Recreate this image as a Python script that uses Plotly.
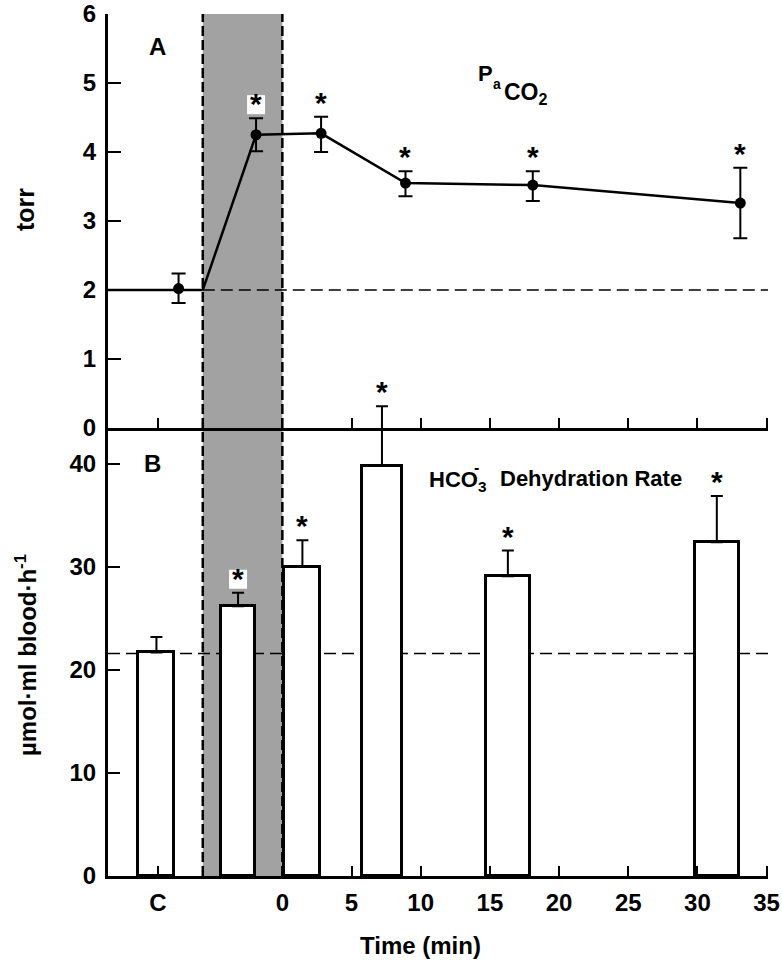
import plotly.graph_objects as go

# ---------------- data ----------------
# Panel A: arterial PCO2 (torr); "C" = control sample
pa_time = [-7.5, -1.9, 2.8, 8.9, 18.1, 33.1]
pa_val = [2.02, 4.25, 4.27, 3.55, 3.52, 3.26]
pa_err_plus = [0.22, 0.24, 0.24, 0.17, 0.20, 0.51]
pa_err_minus = [0.21, 0.24, 0.27, 0.19, 0.23, 0.51]
pa_sig = [False, True, True, True, True, True]
pa_baseline = 2.0

# Panel B: HCO3- dehydration rate (umol/ml blood/h)
rate_time = [-9.1, -3.2, 1.45, 7.2, 16.3, 31.4]
rate_val = [21.7, 26.2, 30.0, 39.8, 29.1, 32.4]
rate_err = [1.5, 1.3, 2.6, 5.8, 2.5, 4.5]
rate_width = [2.6, 2.4, 2.6, 2.9, 3.2, 3.2]
rate_sig = [False, True, True, True, True, True]
rate_baseline = 21.6

# infusion period (shaded)
infusion_start = -5.75
infusion_end = 0.0

tick_vals = [-9, 0, 5, 10, 15, 20, 25, 30, 35]
tick_text = ["C", "0", "5", "10", "15", "20", "25", "30", "35"]
a_ticks = [0, 1, 2, 3, 4, 5, 6]
b_ticks = [0, 10, 20, 30, 40]

# ---------------- layout constants ----------------
W, H = 782, 960
ML, MR, MT, MB = 108, 14, 14, 84
XMIN, XMAX = -12.6, 35.1
PLOT_H = H - MT - MB
A_BOTTOM_PX = 428
A_DOM0 = (H - MB - A_BOTTOM_PX) / PLOT_H
B_PX_PER_UNIT = 10.3
B_RANGE_TOP = PLOT_H / B_PX_PER_UNIT

FONT = "Liberation Sans, Arial, Helvetica, sans-serif"
INK = "black"
SHADE = "#a2a2a2"


def px_to_paper(px, py):
    return (px - ML) / (W - ML - MR), (H - MB - py) / PLOT_H


fig = go.Figure()

# Panel B bars
fig.add_trace(go.Bar(
    x=rate_time, y=rate_val, width=rate_width,
    marker=dict(color="white", line=dict(color=INK, width=3)),
    error_y=dict(type="data", symmetric=False, array=rate_err,
                 arrayminus=[0] * len(rate_err), color=INK,
                 thickness=2, width=6),
    xaxis="x2", yaxis="y2", showlegend=False, cliponaxis=False,
))

# Panel A line (from infusion onset at baseline through measured points)
fig.add_trace(go.Scatter(
    x=[infusion_start] + pa_time[1:], y=[pa_baseline] + pa_val[1:],
    mode="lines", line=dict(color=INK, width=2.5),
    xaxis="x", yaxis="y", showlegend=False, cliponaxis=False,
))
fig.add_trace(go.Scatter(
    x=pa_time, y=pa_val, mode="markers",
    marker=dict(symbol="circle", size=11, color=INK),
    error_y=dict(type="data", symmetric=False, array=pa_err_plus,
                 arrayminus=pa_err_minus, color=INK, thickness=2, width=7),
    xaxis="x", yaxis="y", showlegend=False, cliponaxis=False,
))

shapes = []
# shaded infusion band across both panels
shapes.append(dict(type="rect", xref="x2", yref="paper",
                   x0=infusion_start, x1=infusion_end, y0=0, y1=1,
                   fillcolor=SHADE, line=dict(width=0), layer="below"))
for xv in (infusion_start, infusion_end):
    shapes.append(dict(type="line", xref="x2", yref="paper",
                       x0=xv, x1=xv, y0=0, y1=1,
                       line=dict(color=INK, width=2.5, dash="10px,4px"),
                       layer="below"))
# baseline in A: solid before onset, dashed after
shapes.append(dict(type="line", xref="x", yref="y",
                   x0=XMIN, x1=infusion_start, y0=pa_baseline, y1=pa_baseline,
                   line=dict(color=INK, width=2.5)))
shapes.append(dict(type="line", xref="x", yref="y",
                   x0=infusion_start, x1=XMAX, y0=pa_baseline, y1=pa_baseline,
                   line=dict(color=INK, width=1.5, dash="12px,6px"),
                   layer="below"))
# baseline in B
shapes.append(dict(type="line", xref="x2", yref="y2",
                   x0=XMIN, x1=XMAX, y0=rate_baseline, y1=rate_baseline,
                   line=dict(color=INK, width=1.5, dash="12px,6px"),
                   layer="below"))

annotations = []
STAR_SHIFT = 4


def add_star(x, ytop, xref, yref, boxed):
    if boxed:
        shapes.append(dict(type="rect", xref=xref, yref=yref,
                           xsizemode="pixel", ysizemode="pixel",
                           xanchor=x, yanchor=ytop,
                           x0=-9, x1=9, y0=4, y1=23,
                           fillcolor="white", line=dict(width=0),
                           layer="above"))
    annotations.append(dict(x=x, y=ytop, xref=xref, yref=yref, text="*",
                            showarrow=False, yanchor="bottom",
                            yshift=-STAR_SHIFT,
                            font=dict(size=30, family=FONT, color=INK,
                                      weight="bold")))


for t, v, e, s in zip(pa_time, pa_val, pa_err_plus, pa_sig):
    if s:
        add_star(t, v + e, "x", "y", infusion_start < t < infusion_end)
for t, v, e, s in zip(rate_time, rate_val, rate_err, rate_sig):
    if s:
        add_star(t, v + e, "x2", "y2", infusion_start < t < infusion_end)


def ann(text, px, py, size=22, xanchor="center", angle=0):
    x, y = px_to_paper(px, py)
    annotations.append(dict(x=x, y=y, xref="paper", yref="paper", text=text,
                            showarrow=False, xanchor=xanchor,
                            yanchor="middle", textangle=angle,
                            font=dict(size=size, family=FONT, color=INK,
                                      weight="bold")))


ann("A", 157, 47, size=24)
ann("B", 152, 464, size=24)
ann("P", 476, 73, size=22, xanchor="left")
ann("a", 491, 84, size=14, xanchor="left")
ann("CO<sub>2</sub>", 502, 93, size=23, xanchor="left")
ann("HCO<sub>3</sub>", 427, 481, size=22, xanchor="left")
ann("-", 472, 467, size=16, xanchor="left")
ann("Dehydration Rate", 498, 479, size=22, xanchor="left")
ann("torr", 25, 210, size=25, angle=-90)
ann("µmol·ml blood·h<sup>-1</sup>", 26, 655, size=24, angle=-90)
ann("Time (min)", 420, 945, size=24)

axis_common = dict(showgrid=False, zeroline=False, showline=True,
                   automargin=False,
                   linecolor=INK, linewidth=3, ticks="inside",
                   tickcolor=INK, tickwidth=2,
                   tickfont=dict(size=24, family=FONT, color=INK,
                                 weight="bold"))

fig.update_layout(
    width=W, height=H,
    margin=dict(l=ML, r=MR, t=MT, b=MB, autoexpand=False),
    paper_bgcolor="white", plot_bgcolor="rgba(0,0,0,0)",
    font=dict(family=FONT, size=22, color=INK, weight="bold"),
    showlegend=False, bargap=0,
    xaxis=dict(**axis_common, domain=[0, 1], range=[XMIN, XMAX],
               anchor="y", tickvals=tick_vals, showticklabels=False,
               ticklen=10, matches="x2"),
    xaxis2=dict(**axis_common, domain=[0, 1], range=[XMIN, XMAX],
                anchor="y2", tickvals=tick_vals, ticktext=tick_text,
                ticklen=10, ticklabelstandoff=3),
    yaxis=dict(**axis_common, domain=[A_DOM0, 1], range=[0, 6],
               anchor="x", tickvals=a_ticks, ticklen=13,
               ticklabelstandoff=4),
    yaxis2=dict(**axis_common, domain=[0, 1], range=[0, B_RANGE_TOP],
                anchor="x2", tickvals=b_ticks, ticklen=12,
                ticklabelstandoff=4),
    shapes=shapes,
    annotations=annotations,
)

fig.write_html(
    "out.html",
    config={"displayModeBar": False},
    post_script="document.body.style.margin='0px';"
                "document.body.style.overflow='hidden';",
)
